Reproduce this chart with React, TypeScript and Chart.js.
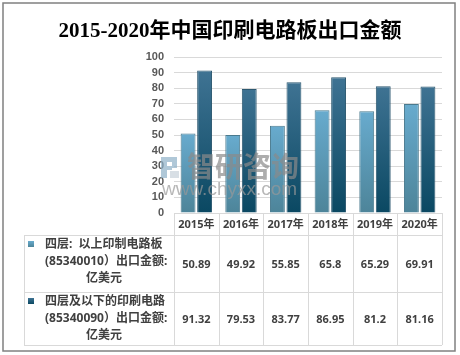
import React, { useEffect, useRef } from "react";
import { Chart, registerables } from "chart.js";

Chart.register(...registerables);

const titleText = "2015-2020年中国印刷电路板出口金额";
const categories = ["2015年", "2016年", "2017年", "2018年", "2019年", "2020年"];
const seriesAbove = [50.89, 49.92, 55.85, 65.8, 65.29, 69.91];
const seriesBelow = [91.32, 79.53, 83.77, 86.95, 81.2, 81.16];
const seriesAboveLabel = ["四层:  以上印制电路板", "(85340010）出口金额:", "亿美元"];
const seriesBelowLabel = ["四层及以下的印刷电路", "(85340090）出口金额:", "亿美元"];
const yMin = 0;
const yMax = 100;
const yStep = 10;
const watermarkName = "智研咨询";
const watermarkUrl = "www.chyxx.com";

const lightTop = "#68abce";
const lightBottom = "#4d8499";
const darkTop = "#3f7393";
const darkBottom = "#0a4862";

function barGradient(top: string, bottom: string) {
  return (ctx: any) => {
    const chart = ctx.chart;
    const y = chart.scales?.y;
    if (!y || !chart.chartArea || ctx.raw === undefined) return top;
    const yt = y.getPixelForValue(ctx.raw);
    const yb = y.getPixelForValue(0);
    const g = chart.ctx.createLinearGradient(0, yt, 0, yb);
    g.addColorStop(0, top);
    g.addColorStop(1, bottom);
    return g;
  };
}

const TEXT_FONT = 'bold 11px "Noto Sans", "Noto Sans CJK SC", sans-serif';
const LABEL_FONT = 'bold 12px "Noto Sans", "Noto Sans CJK SC", sans-serif';
const TEXT_COLOR = "#404040";
const TABLE_LINE = "#d9d9d9";

function centerText(ctx: CanvasRenderingContext2D, s: string, cx: number, y: number) {
  const w = ctx.measureText(s).width;
  ctx.textAlign = "left";
  ctx.fillText(s, cx - w / 2, y);
}

const decorPlugin = {
  id: "decor",
  afterDatasetsDraw(chart: any) {
    const ctx = chart.ctx as CanvasRenderingContext2D;
    const area = chart.chartArea;
    const xs = chart.scales.x;
    // watermark
    ctx.save();
    ctx.globalAlpha = 0.7;
    ctx.fillStyle = "#8fb0c8";
    ctx.fillRect(161, 157, 6, 21);
    ctx.fillRect(167, 157, 10, 5);
    ctx.fillRect(172, 162, 5, 6);
    ctx.fillRect(167, 166, 5, 4);
    ctx.fillStyle = "#c8d2da";
    ctx.fillRect(170, 171, 9, 7);
    ctx.fillStyle = "#8a8a8a";
    ctx.font = 'bold 28px "Noto Sans CJK SC", sans-serif';
    ctx.textBaseline = "middle";
    ctx.textAlign = "left";
    ctx.fillText(watermarkName, 187, 166);
    ctx.font = '19px "Liberation Sans", sans-serif';
    ctx.fillStyle = "#999999";
    ctx.fillText(watermarkUrl, 162, 190);
    ctx.restore();

    // table
    const colW = (area.right - area.left) / categories.length;
    const tLeft = 24;
    const r0 = area.bottom;
    const r1 = 235;
    const r2 = 292;
    const r3 = 345;
    ctx.save();
    ctx.strokeStyle = TABLE_LINE;
    ctx.lineWidth = 1;
    ctx.beginPath();
    ctx.moveTo(area.left, r0 + 0.5);
    ctx.lineTo(area.right, r0 + 0.5);
    for (const r of [r1, r2, r3]) {
      ctx.moveTo(tLeft, r + 0.5);
      ctx.lineTo(area.right, r + 0.5);
    }
    ctx.moveTo(tLeft + 0.5, r1);
    ctx.lineTo(tLeft + 0.5, r3);
    for (let i = 0; i <= categories.length; i++) {
      const x = Math.round(area.left + i * colW) + 0.5;
      ctx.moveTo(x, r0);
      ctx.lineTo(x, r3);
    }
    ctx.stroke();

    ctx.fillStyle = TEXT_COLOR;
    ctx.font = TEXT_FONT;
    ctx.textBaseline = "middle";
    categories.forEach((c, i) => {
      const cx = xs.getPixelForValue(i);
      centerText(ctx, c, cx, (r0 + r1) / 2 + 1);
      centerText(ctx, String(seriesAbove[i]), cx, (r1 + r2) / 2 + 1);
      centerText(ctx, String(seriesBelow[i]), cx, (r2 + r3) / 2 + 1);
    });

    const drawLabel = (lines: string[], top: number, c1: string, c2: string) => {
      const lineH = 17;
      const y0 = top + 10;
      const g = ctx.createLinearGradient(0, y0 - 4, 0, y0 + 2);
      g.addColorStop(0, c1);
      g.addColorStop(1, c2);
      ctx.fillStyle = g;
      ctx.fillRect(28, y0 - 4, 6, 6);
      ctx.fillStyle = TEXT_COLOR;
      ctx.font = LABEL_FONT;
      ctx.textAlign = "left";
      ctx.fillText(lines[0], 45, y0);
      ctx.fillText(lines[1], 45, y0 + lineH);
      ctx.fillText(lines[2], 86, y0 + 2 * lineH);
    };
    drawLabel(seriesAboveLabel, r1, lightTop, lightBottom);
    drawLabel(seriesBelowLabel, r2, darkTop, darkBottom);

    // title
    ctx.fillStyle = "#000000";
    ctx.font = 'bold 21px "Liberation Serif", "Noto Sans CJK SC", serif';
    ctx.textBaseline = "middle";
    centerText(ctx, titleText, 230, 32);

    // outer border
    ctx.strokeStyle = "#808080";
    ctx.lineWidth = 1.5;
    ctx.strokeRect(3, 3, 452, 348);
    ctx.restore();
  },
};

export default function App() {
  const ref = useRef<HTMLCanvasElement | null>(null);
  useEffect(() => {
    if (!ref.current) return;
    const chart = new Chart(ref.current, {
      type: "bar",
      data: {
        labels: categories,
        datasets: [
          {
            label: seriesAboveLabel.join(""),
            data: seriesAbove,
            backgroundColor: barGradient(lightTop, lightBottom),
            borderColor: "#4a7a8e",
            borderWidth: 1,
          },
          {
            label: seriesBelowLabel.join(""),
            data: seriesBelow,
            backgroundColor: barGradient(darkTop, darkBottom),
            borderColor: "#2c5870",
            borderWidth: 1,
          },
        ],
      },
      options: {
        responsive: false,
        animation: false,
        layout: { padding: { top: 57, right: 18, bottom: 142, left: 0 } },
        plugins: {
          legend: { display: false },
          title: { display: false },
          tooltip: { enabled: false },
        },
        datasets: { bar: { categoryPercentage: 0.74, barPercentage: 0.9 } },
        scales: {
          x: { display: false },
          y: {
            min: yMin,
            max: yMax,
            ticks: {
              stepSize: yStep,
              autoSkip: false,
              padding: 10,
              color: "#595959",
              font: { family: '"Liberation Sans", sans-serif', size: 11, weight: "bold" },
            },
            grid: { color: "#d9d9d9", drawTicks: false },
            border: { display: false },
            afterFit: (s: any) => {
              s.width = 174;
            },
          },
        },
      },
      plugins: [decorPlugin],
    });
    return () => chart.destroy();
  }, []);
  return (
    <div style={{ position: "absolute", left: 0, top: 0, width: 460, height: 355, background: "#fff" }}>
      <canvas ref={ref} width={460} height={355} />
    </div>
  );
}
